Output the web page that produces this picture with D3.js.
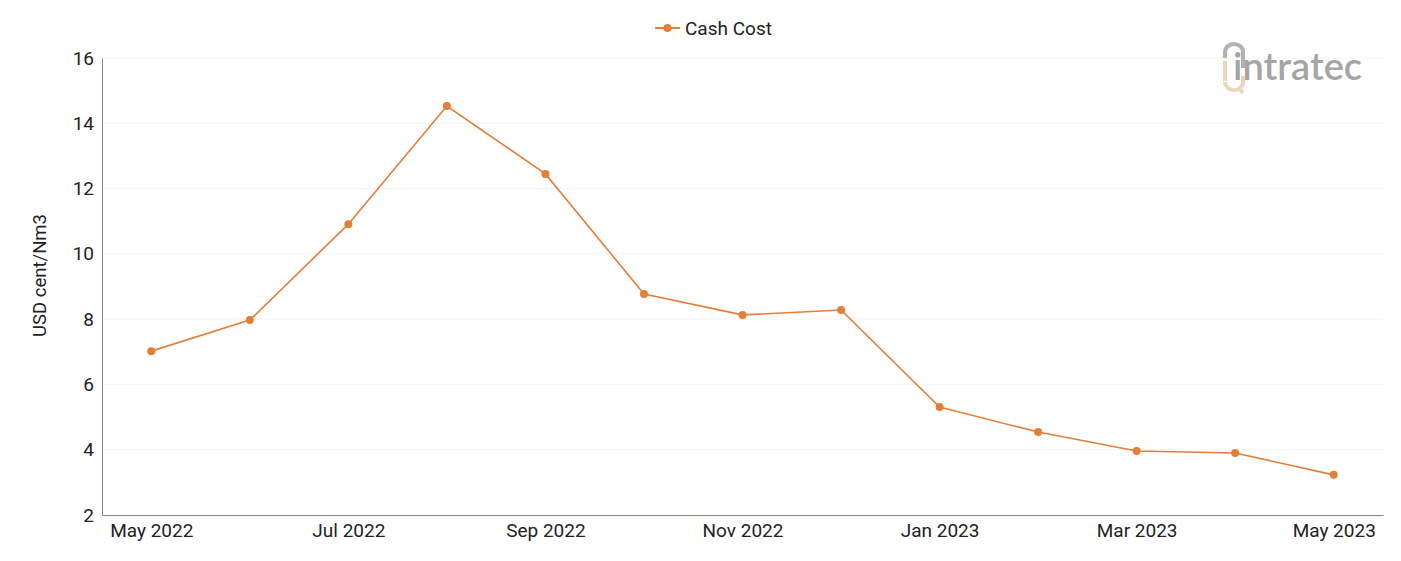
<!DOCTYPE html>
<html>
<head>
<meta charset="utf-8">
<script src="https://cdn.jsdelivr.net/npm/d3@7"></script>
<style>
  body { margin: 0; background: #fff; font-family: Roboto, "Noto Sans", sans-serif; }
  .tick text { font-family: Roboto, sans-serif; font-size: 19px; fill: #222; }
  .grid line { stroke: #f5f5f5; }
</style>
</head>
<body>
<div id="chart"></div>
<script>
const months = ["May 2022", "Jun 2022", "Jul 2022", "Aug 2022", "Sep 2022", "Oct 2022", "Nov 2022",
  "Dec 2022", "Jan 2023", "Feb 2023", "Mar 2023", "Apr 2023", "May 2023"];
const cashCost = [7.02, 7.97, 10.91, 14.53, 12.45, 8.77, 8.13, 8.28, 5.31, 4.54, 3.96, 3.9, 3.23];
const yTicks = [2, 4, 6, 8, 10, 12, 14, 16];
const xTickLabels = ["May 2022", "Jul 2022", "Sep 2022", "Nov 2022", "Jan 2023", "Mar 2023", "May 2023"];
const seriesName = "Cash Cost";
const yLabel = "USD cent/Nm3";

const W = 1401, H = 561;
const margin = { top: 58, right: 18, bottom: 46, left: 102 };
const width = W - margin.left - margin.right;
const height = H - margin.top - margin.bottom;
const color = "#e27f38";

const data = months.map((m, i) => ({ month: m, value: cashCost[i] }));

const svg = d3.select("#chart").append("svg")
  .attr("width", W).attr("height", H);
const g = svg.append("g").attr("transform", `translate(${margin.left},${margin.top})`);

const x = d3.scalePoint().domain(months).range([0, width]).padding(0.5);
const y = d3.scaleLinear().domain([2, 16]).range([height, 0]);

// grid
g.append("g").attr("class", "grid")
  .selectAll("line").data(yTicks.slice(1)).join("line")
  .attr("x1", 0).attr("x2", width)
  .attr("y1", d => y(d)).attr("y2", d => y(d));

// y axis
const yAxis = g.append("g")
  .call(d3.axisLeft(y).tickValues(yTicks).tickSize(0).tickPadding(8));
yAxis.select(".domain").attr("stroke", "#888");

// x axis
const xAxis = g.append("g").attr("transform", `translate(0,${height})`)
  .call(d3.axisBottom(x).tickValues(xTickLabels).tickSize(0).tickPadding(9));
xAxis.select(".domain").attr("stroke", "#888");

// y label
svg.append("text")
  .attr("transform", `translate(46,${margin.top + height / 2 - 11}) rotate(-90)`)
  .attr("text-anchor", "middle")
  .style("font-size", "18.5px").style("fill", "#222")
  .text(yLabel);

// line
g.append("path").datum(data)
  .attr("fill", "none").attr("stroke", color).attr("stroke-width", 1.6)
  .attr("d", d3.line().x(d => x(d.month)).y(d => y(d.value)));

g.selectAll("circle.pt").data(data).join("circle")
  .attr("class", "pt")
  .attr("cx", d => x(d.month)).attr("cy", d => y(d.value))
  .attr("r", 4).attr("fill", color);

// legend
const lg = svg.append("g").attr("transform", "translate(655,28)");
lg.append("line").attr("x1", 0).attr("x2", 25).attr("stroke", color).attr("stroke-width", 2);
lg.append("circle").attr("cx", 12.5).attr("r", 4).attr("fill", color);
lg.append("text").attr("x", 30).attr("dy", "0.35em")
  .style("font-size", "19px").style("fill", "#222").text(seriesName);

// watermark logo
const logo = svg.append("g").attr("transform", "translate(1222,44)").attr("opacity", 0.75);
logo.append("path").attr("d", "M3,14 L3,8 A9,8 0 0 1 21,8 L21,24")
  .attr("fill", "none").attr("stroke", "#999").attr("stroke-width", 4);
logo.append("path").attr("d", "M3,38 A9,8 0 0 0 21,38 M21,32 L21,38 M16,43 L21,49")
  .attr("fill", "none").attr("stroke", "#e8c7a4").attr("stroke-width", 4);
logo.append("rect").attr("x", 1).attr("y", 17).attr("width", 4).attr("height", 20).attr("fill", "#e8c7a4");
logo.append("text").attr("x", 11).attr("y", 36)
  .style("font-family", "Lato, Roboto, sans-serif").style("font-size", "38px").style("font-weight", "600")
  .style("fill", "#888").text("intratec");
</script>
</body>
</html>
